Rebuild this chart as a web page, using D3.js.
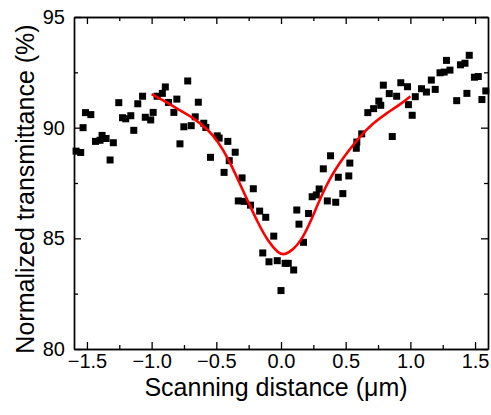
<!DOCTYPE html>
<html>
<head>
<meta charset="utf-8">
<script src="https://cdn.jsdelivr.net/npm/d3@7"></script>
<style>
  html, body { margin: 0; padding: 0; background: #fff; }
  svg { display: block; }
  text { font-family: "Liberation Sans", Arial, sans-serif; fill: #000; }
</style>
</head>
<body>
<svg id="chart" width="491" height="415"></svg>
<script>
// Measured data (scanning distance in µm, normalized transmittance in %)
const pointX = [-1.584,-1.548,-1.530,-1.511,-1.470,-1.434,-1.399,-1.383,-1.352,-1.321,-1.296,-1.254,-1.225,-1.200,-1.161,-1.138,-1.107,-1.070,-1.049,-1.007,-0.988,-0.958,-0.917,-0.894,-0.870,-0.828,-0.805,-0.781,-0.751,-0.721,-0.694,-0.663,-0.639,-0.597,-0.581,-0.545,-0.493,-0.478,-0.440,-0.411,-0.400,-0.354,-0.301,-0.214,-0.330,-0.284,-0.236,-0.165,-0.118,-0.056,-0.141,-0.093,-0.029,0.032,0.056,0.098,0.000,0.122,0.139,0.174,0.213,0.241,0.273,0.295,0.358,0.423,0.478,0.443,0.327,0.383,0.524,0.532,0.582,0.586,0.624,0.671,0.716,0.756,0.771,0.791,0.837,0.894,0.860,0.926,0.978,0.985,1.014,1.038,1.086,1.124,1.162,1.192,1.229,1.261,1.279,1.306,1.358,1.387,1.422,1.455,1.437,1.495,1.525,1.553,1.583];
const pointY = [88.94,88.88,90.00,90.68,90.59,89.38,89.43,89.65,89.51,88.54,89.32,91.13,90.45,90.40,90.54,89.88,91.08,91.42,90.47,90.35,90.69,91.42,91.55,91.84,91.14,90.69,91.29,89.27,90.04,92.11,90.09,90.49,91.15,90.20,90.01,88.66,89.63,89.53,87.98,89.38,88.51,88.89,87.73,87.24,86.69,86.67,86.50,86.23,85.95,85.10,84.34,83.94,83.99,83.87,83.87,83.57,82.64,86.28,85.64,84.82,86.12,86.88,86.96,87.23,86.69,86.63,87.02,87.76,88.14,88.73,87.82,88.40,89.07,89.35,89.72,90.68,90.86,91.20,91.01,91.92,91.54,91.42,89.60,92.03,91.85,91.04,90.56,91.40,91.76,91.61,92.15,91.73,92.48,92.51,93.04,92.60,91.22,92.84,92.91,93.27,91.55,92.28,92.31,91.27,91.66];

// Fitted curve
const fitX = [-1.0,-0.873,-0.770,-0.667,-0.564,-0.487,-0.410,-0.332,-0.255,-0.178,-0.100,-0.023,0.023,0.095,0.160,0.224,0.288,0.353,0.417,0.508,0.611,0.713,0.817,0.920,1.0];
const fitY = [91.52,91.11,90.74,90.40,89.91,89.38,88.63,87.65,86.67,85.69,84.86,84.34,84.23,84.48,84.94,85.69,86.60,87.42,88.10,88.85,89.61,90.21,90.66,91.04,91.42];

const xTicks = [-1.5,-1.0,-0.5,0.0,0.5,1.0,1.5];
const xMinorTicks = [-1.25,-0.75,-0.25,0.25,0.75,1.25];
const yTicks = [80,85,90,95];
const yMinorTicks = [82.5,87.5,92.5];

const xLabel = "Scanning distance (\u03bcm)";
const yLabel = "Normalized transmittance (%)";

const svg = d3.select("#chart");
const L = 74, T = 17, R = 488, B = 349;

const x = d3.scaleLinear().domain([-1.6, 1.6]).range([L, R]);
const y = d3.scaleLinear().domain([80, 95]).range([B, T]);

const fmt = d3.format(".1f");

function styleAxis(g) {
  g.selectAll("path.domain").attr("stroke", "#000").attr("stroke-width", 1.4);
  g.selectAll(".tick line").attr("stroke", "#000").attr("stroke-width", 1.3);
  g.selectAll(".tick text").style("font-family", '"Liberation Sans", Arial, sans-serif').attr("font-size", 20).attr("fill", "#000");
}

// bottom
svg.append("g").attr("transform", `translate(0,${B})`)
  .call(d3.axisBottom(x).tickValues(xTicks).tickFormat(fmt).tickSizeInner(-7).tickSizeOuter(0).tickPadding(5))
  .call(styleAxis);
svg.append("g").attr("transform", `translate(0,${B})`)
  .call(d3.axisBottom(x).tickValues(xMinorTicks).tickFormat("").tickSizeInner(-4).tickSizeOuter(0))
  .call(styleAxis);
// top
svg.append("g").attr("transform", `translate(0,${T})`)
  .call(d3.axisTop(x).tickValues(xTicks).tickFormat("").tickSizeInner(-7).tickSizeOuter(0))
  .call(styleAxis);
svg.append("g").attr("transform", `translate(0,${T})`)
  .call(d3.axisTop(x).tickValues(xMinorTicks).tickFormat("").tickSizeInner(-4).tickSizeOuter(0))
  .call(styleAxis);
// left
svg.append("g").attr("transform", `translate(${L},0)`)
  .call(d3.axisLeft(y).tickValues(yTicks).tickFormat(d3.format("d")).tickSizeInner(-7).tickSizeOuter(0).tickPadding(9))
  .call(styleAxis);
svg.append("g").attr("transform", `translate(${L},0)`)
  .call(d3.axisLeft(y).tickValues(yMinorTicks).tickFormat("").tickSizeInner(-4).tickSizeOuter(0))
  .call(styleAxis);
// right
svg.append("g").attr("transform", `translate(${R},0)`)
  .call(d3.axisRight(y).tickValues(yTicks).tickFormat("").tickSizeInner(-7).tickSizeOuter(0))
  .call(styleAxis);
svg.append("g").attr("transform", `translate(${R},0)`)
  .call(d3.axisRight(y).tickValues(yMinorTicks).tickFormat("").tickSizeInner(-4).tickSizeOuter(0))
  .call(styleAxis);

// scatter points
const pts = pointX.map((v, i) => ({x: v, y: pointY[i]}));
const S = 7;
svg.append("g").selectAll("rect").data(pts).join("rect")
  .attr("x", d => x(d.x) - S / 2)
  .attr("y", d => y(d.y) - S / 2)
  .attr("width", S).attr("height", S)
  .attr("fill", "#000");

// fitted curve
const fit = fitX.map((v, i) => ({x: v, y: fitY[i]}));
svg.append("path").datum(fit)
  .attr("fill", "none").attr("stroke", "#ff0000").attr("stroke-width", 2.6)
  .attr("d", d3.line().x(d => x(d.x)).y(d => y(d.y)).curve(d3.curveBasis));

// axis titles
svg.append("text").attr("x", 276).attr("y", 396).attr("text-anchor", "middle")
  .attr("font-size", 25).text(xLabel);
svg.append("text").attr("transform", `translate(34,${(T + B) / 2 + 6}) rotate(-90)`)
  .attr("text-anchor", "middle").attr("font-size", 25).text(yLabel);
</script>
</body>
</html>
